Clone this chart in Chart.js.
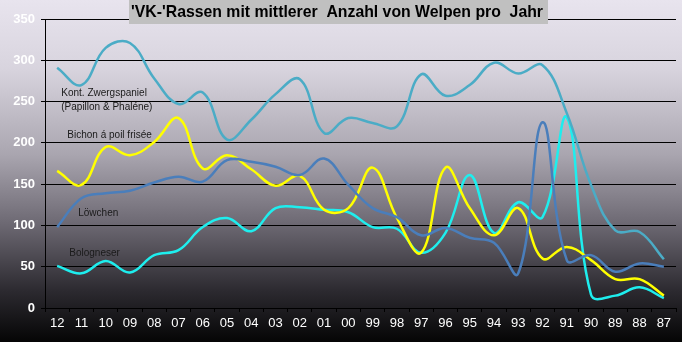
<!DOCTYPE html>
<html>
<head>
<meta charset="utf-8">
<script src="https://cdn.jsdelivr.net/npm/chart.js@4"></script>
<style>
  html, body { margin: 0; padding: 0; }
  body { width: 682px; height: 342px; overflow: hidden; }
  #wrap {
    position: relative; width: 682px; height: 342px;
    background: linear-gradient(to bottom, #e8e4ee 0%, #d8d4de 20%, #aaa6b0 45%, #6e6a74 65%, #2c2a30 85%, #050505 100%);
  }
</style>
</head>
<body>
<div id="wrap"><canvas id="chart" width="682" height="342"></canvas></div>
<script>
const years = ['12','11','10','09','08','07','06','05','04','03','02','01','00','99','98','97','96','95','94','93','92','91','90','89','88','87'];

const zwergspaniel = [291, 270, 315, 321, 278, 247, 261, 204, 228, 259, 277, 212, 230, 224, 220, 283, 257, 270, 297, 284, 294, 236, 149, 94, 92, 59];
const bichon       = [166, 149, 195, 185, 201, 230, 169, 185, 168, 148, 160, 119, 121, 170, 109, 67, 170, 121, 88, 121, 60, 74, 58, 35, 35, 15];
const loewchen     = [98, 133, 139, 142, 152, 159, 153, 179, 177, 171, 161, 181, 149, 121, 110, 88, 97, 85, 79, 42, 225, 58, 64, 44, 54, 50];
const bologneser   = [51, 42, 57, 43, 64, 70, 98, 109, 93, 121, 122, 119, 116, 98, 96, 67, 91, 161, 91, 128, 110, 231, 16, 15, 25, 12];

const yTicks = [0, 50, 100, 150, 200, 250, 300, 350];

// series labels inside the plot: [text, category position, value]
const seriesLabels = [
  ['Kont. Zwergspaniel', 0.17, 260],
  ['(Papillon & Phaléne)', 0.17, 243],
  ['Bichon á poil frisée', 0.42, 209],
  ['Löwchen', 0.87, 115],
  ['Bologneser', 0.5, 66]
];

const chartTitle = "'VK-'Rassen mit mittlerer  Anzahl von Welpen pro  Jahr";

const extras = {
  id: 'extras',
  afterDraw(chart) {
    const ctx = chart.ctx;
    const x = chart.scales.x, y = chart.scales.y;
    ctx.save();
    ctx.font = '10px "Liberation Sans", Arial, sans-serif';
    ctx.fillStyle = '#1a1a1a';
    ctx.textAlign = 'left';
    ctx.textBaseline = 'middle';
    seriesLabels.forEach(l => {
      ctx.fillText(l[0], x.getPixelForValue(l[1]), y.getPixelForValue(l[2]));
    });
    // title box, text squeezed to look like a narrow face
    ctx.fillStyle = '#c0c0c0';
    ctx.fillRect(129, 0, 419, 24);
    ctx.font = 'bold 17px "Liberation Sans", Arial, sans-serif';
    const w = ctx.measureText(chartTitle).width;
    const target = 412;
    ctx.translate(131, 12);
    ctx.scale(target / w, 1);
    ctx.fillStyle = '#000';
    ctx.textAlign = 'left';
    ctx.fillText(chartTitle, 0, 0);
    ctx.restore();
  }
};

function line(label, data, color) {
  return {
    label: label,
    data: data,
    borderColor: color,
    backgroundColor: color,
    borderWidth: 2.5,
    pointRadius: 0,
    tension: 0.4,
    fill: false
  };
}

new Chart(document.getElementById('chart'), {
  type: 'line',
  data: {
    labels: years,
    datasets: [
      line('Kont. Zwergspaniel', zwergspaniel, '#4bacc6'),
      line('Löwchen', loewchen, '#4a7ebb'),
      line('Bichon á poil frisée', bichon, '#ffff00'),
      line('Bologneser', bologneser, '#1eeeee')
    ]
  },
  options: {
    responsive: false,
    animation: false,
    layout: { padding: { top: 19, right: 6, left: 0, bottom: 0 } },
    plugins: {
      legend: { display: false },
      title: { display: false },
      tooltip: { enabled: false }
    },
    scales: {
      x: {
        offset: true,
        afterFit(scale) { scale.height = 34; },
        grid: {
          display: true,
          drawOnChartArea: false,
          drawTicks: true,
          tickLength: 4,
          color: '#000',
          offset: true
        },
        border: { color: '#000', width: 1 },
        ticks: {
          color: '#ffffff',
          font: { family: '"Liberation Sans", Arial, sans-serif', size: 13 },
          maxRotation: 0,
          autoSkip: false,
          padding: 4
        }
      },
      y: {
        min: 0,
        max: 350,
        afterFit(scale) { scale.width = 45; },
        afterBuildTicks(scale) { scale.ticks = yTicks.map(v => ({ value: v })); },
        grid: {
          color: '#000',
          lineWidth: 1,
          drawTicks: true,
          tickLength: 4
        },
        border: { color: '#000', width: 1 },
        ticks: {
          color: '#ffffff',
          font: { family: '"Liberation Sans", Arial, sans-serif', size: 13, weight: 'bold' },
          padding: 6
        }
      }
    }
  },
  plugins: [extras]
});
</script>
</body>
</html>
